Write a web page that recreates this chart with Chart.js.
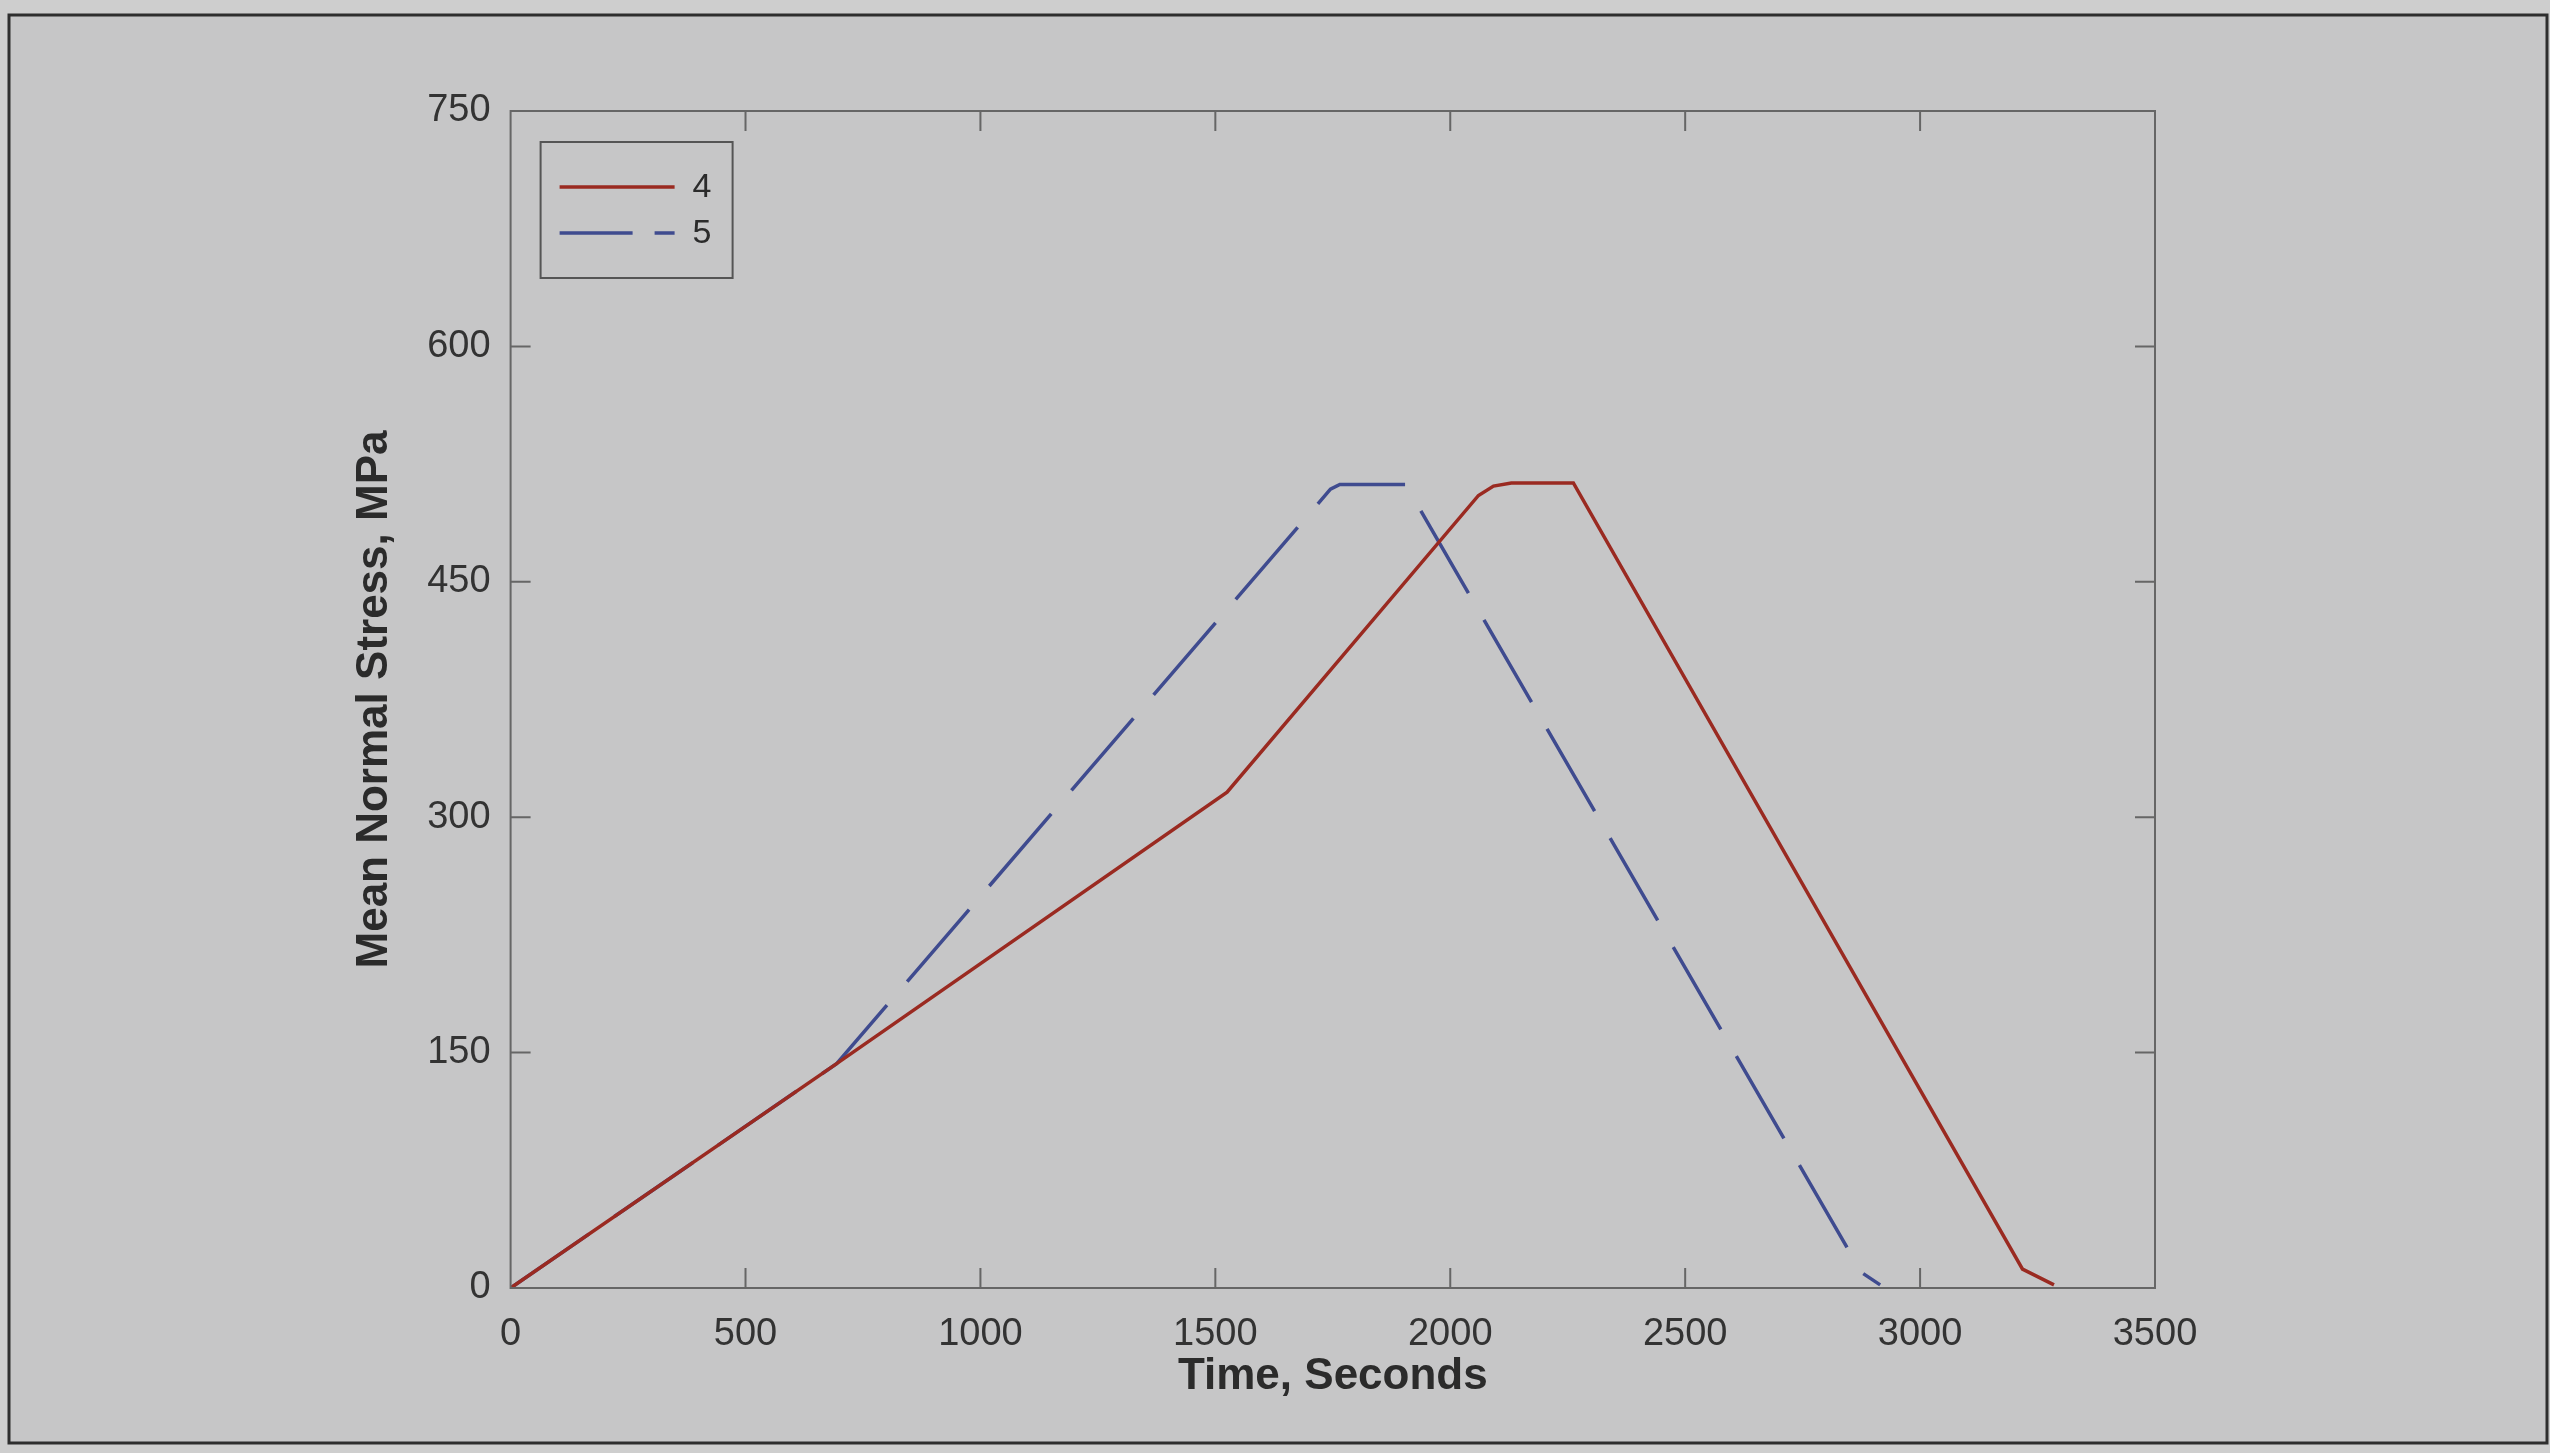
<!DOCTYPE html>
<html>
<head>
<meta charset="utf-8">
<script src="https://cdn.jsdelivr.net/npm/chart.js"></script>
<style>
  html, body { margin: 0; padding: 0; background: #cecece; }
  #wrap { width: 2550px; height: 1453px; }
</style>
</head>
<body>
<div id="wrap"><canvas id="stressChart" width="2550" height="1453"></canvas></div>
<script>
// load history, test 4 and test 5
const time4   = [0, 694, 1525, 2060, 2092, 2130, 2262, 3218, 3285];
const stress4 = [0, 143, 316, 505, 511, 513, 513, 12, 2];
const time5   = [0, 694, 1745, 1765, 1905, 2875, 2915];
const stress5 = [0, 143, 509, 512, 512, 10, 2];

const seriesNames = ["4", "5"];
const xTicks = [0, 500, 1000, 1500, 2000, 2500, 3000, 3500];
const yTicks = [0, 150, 300, 450, 600, 750];

const RED = "#9a2a21";
const BLUE = "#3f4b8f";
const AXIS = "#666";
const TEXT = "#2b2b2b";
const FONT = "'Liberation Sans', Arial, sans-serif";

function pairs(xs, ys) {
  return xs.map((x, i) => ({ x: x, y: ys[i] }));
}

// page background and the outer frame round the figure
const paperFrame = {
  id: "paperFrame",
  beforeDraw(chart) {
    const ctx = chart.ctx;
    ctx.save();
    ctx.fillStyle = "#cecece";
    ctx.fillRect(0, 0, chart.width, chart.height);
    ctx.fillStyle = "#c6c6c7";
    ctx.fillRect(9, 15, 2538, 1428);
    ctx.strokeStyle = "#2e2e2e";
    ctx.lineWidth = 3;
    ctx.strokeRect(9, 15, 2538, 1428);
    ctx.restore();
  }
};

// box round the plot with inward tick marks on all four sides
const boxAxes = {
  id: "boxAxes",
  afterDatasetsDraw(chart) {
    const { ctx, chartArea: a, scales } = chart;
    const len = 20;
    ctx.save();
    ctx.strokeStyle = AXIS;
    ctx.lineWidth = 2;
    ctx.strokeRect(a.left, a.top, a.right - a.left, a.bottom - a.top);
    ctx.beginPath();
    scales.x.ticks.forEach(t => {
      const px = scales.x.getPixelForValue(t.value);
      if (px <= a.left + 1 || px >= a.right - 1) return;
      ctx.moveTo(px, a.bottom); ctx.lineTo(px, a.bottom - len);
      ctx.moveTo(px, a.top); ctx.lineTo(px, a.top + len);
    });
    scales.y.ticks.forEach(t => {
      const py = scales.y.getPixelForValue(t.value);
      if (py <= a.top + 1 || py >= a.bottom - 1) return;
      ctx.moveTo(a.left, py); ctx.lineTo(a.left + len, py);
      ctx.moveTo(a.right, py); ctx.lineTo(a.right - len, py);
    });
    ctx.stroke();
    ctx.restore();
  }
};

// boxed legend in the upper left corner of the plot
const boxLegend = {
  id: "boxLegend",
  afterDraw(chart) {
    const ctx = chart.ctx;
    const a = chart.chartArea;
    const bx = a.left + 30, by = a.top + 31, bw = 192, bh = 136;
    ctx.save();
    ctx.strokeStyle = "#555";
    ctx.lineWidth = 2;
    ctx.strokeRect(bx, by, bw, bh);
    ctx.font = "34px " + FONT;
    ctx.textBaseline = "middle";
    ctx.textAlign = "left";
    chart.data.datasets.forEach((ds, i) => {
      const y = by + 45 + i * 46;
      ctx.strokeStyle = ds.borderColor;
      ctx.lineWidth = ds.borderWidth;
      ctx.setLineDash(ds.legendDash || []);
      ctx.beginPath();
      ctx.moveTo(bx + 19, y);
      ctx.lineTo(bx + 134, y);
      ctx.stroke();
      ctx.setLineDash([]);
      ctx.fillStyle = TEXT;
      ctx.fillText(ds.label, bx + 152, y + 1);
    });
    ctx.restore();
  }
};

const ctx = document.getElementById("stressChart").getContext("2d");
new Chart(ctx, {
  type: "line",
  data: {
    datasets: [
      {
        label: seriesNames[0],
        data: pairs(time4, stress4),
        borderColor: RED,
        borderWidth: 3.5,
        pointRadius: 0,
        tension: 0,
        legendDash: []
      },
      {
        label: seriesNames[1],
        data: pairs(time5, stress5),
        borderColor: BLUE,
        borderWidth: 3.5,
        borderDash: [95, 31],
        pointRadius: 0,
        tension: 0,
        legendDash: [73, 22]
      }
    ]
  },
  options: {
    responsive: false,
    animation: false,
    devicePixelRatio: 1,
    layout: { padding: { left: 0, top: 111, right: 395, bottom: 0 } },
    plugins: {
      legend: { display: false },
      tooltip: { enabled: false }
    },
    scales: {
      x: {
        type: "linear",
        min: 0,
        max: 3500,
        afterBuildTicks: s => { s.ticks = xTicks.map(v => ({ value: v })); },
        afterFit: s => { s.height = 165; },
        grid: { display: false, drawTicks: false },
        border: { display: false },
        ticks: {
          padding: 24,
          maxRotation: 0,
          autoSkip: false,
          color: "#333",
          callback: v => String(v),
          font: { family: FONT, size: 38 }
        },
        title: {
          display: true,
          text: "Time, Seconds",
          color: TEXT,
          padding: { top: 0, bottom: 50 },
          font: { family: FONT, size: 44, weight: "bold" }
        }
      },
      y: {
        min: 0,
        max: 750,
        afterBuildTicks: s => { s.ticks = yTicks.map(v => ({ value: v })); },
        afterFit: s => { s.width = 510.6; },
        grid: { display: false, drawTicks: false },
        border: { display: false },
        ticks: {
          padding: 20,
          autoSkip: false,
          color: "#333",
          callback: v => String(v),
          font: { family: FONT, size: 38 }
        },
        title: {
          display: true,
          text: "Mean Normal Stress, MPa",
          color: TEXT,
          padding: { top: 348, bottom: 0 },
          font: { family: FONT, size: 44, weight: "bold" }
        }
      }
    }
  },
  plugins: [paperFrame, boxAxes, boxLegend]
});
</script>
</body>
</html>
